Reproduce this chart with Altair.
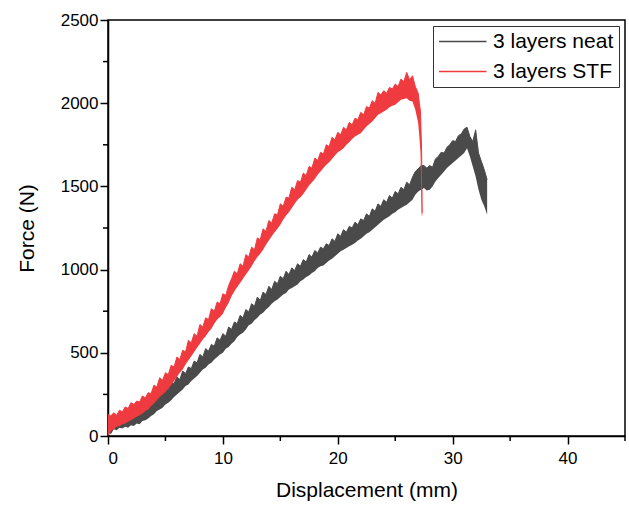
import altair as alt
import pandas as pd

series_names = ["3 layers neat", "3 layers STF"]
series_colors = ["#4a4a4a", "#ef3b3f"]

# 3 layers neat: displacement (mm), lower / upper edge of the noisy force band (N)
neat_x = [0, 0.25, 0.5, 0.75, 1, 1.25, 1.5, 1.75, 2, 2.25, 2.5, 2.75, 3, 3.25, 3.5, 3.75,
          4, 4.25, 4.5, 4.75, 5, 5.25, 5.5, 5.75, 6, 6.25, 6.5, 6.75, 7, 7.25, 7.5, 7.75,
          8, 8.25, 8.5, 8.75, 9, 9.25, 9.5, 9.75, 10, 10.25, 10.5, 10.75, 11, 11.25, 11.5, 11.75,
          12, 12.25, 12.5, 12.75, 13, 13.25, 13.5, 13.75, 14, 14.25, 14.5, 14.75, 15, 15.25, 15.5, 15.75,
          16, 16.25, 16.5, 16.75, 17, 17.25, 17.5, 17.75, 18, 18.25, 18.5, 18.75, 19, 19.25, 19.5, 19.75,
          20, 20.25, 20.5, 20.75, 21, 21.25, 21.5, 21.75, 22, 22.25, 22.5, 22.75, 23, 23.25, 23.5, 23.75,
          24, 24.25, 24.5, 24.75, 25, 25.25, 25.5, 25.75, 26, 26.25, 26.5, 26.75, 27, 27.25, 27.5, 27.75,
          28, 28.25, 28.5, 28.75, 29, 29.25, 29.5, 29.75, 30, 30.25, 30.5, 30.75, 31, 31.25, 31.5, 31.75,
          32, 32.25, 32.5, 32.75, 33]
neat_lo = [30, 10, 40, 35, 50, 45, 55, 50, 65, 60, 75, 70, 90, 95, 105, 120,
           130, 150, 160, 170, 190, 200, 215, 235, 250, 265, 280, 300, 310, 330, 345, 360,
           380, 400, 410, 430, 440, 460, 475, 490, 500, 525, 535, 555, 570, 595, 610, 620,
           640, 665, 675, 695, 710, 730, 740, 760, 775, 795, 810, 820, 835, 850, 860, 880,
           890, 900, 910, 930, 940, 955, 965, 980, 990, 1010, 1020, 1025, 1040, 1055, 1065, 1080,
           1095, 1110, 1120, 1130, 1140, 1150, 1160, 1175, 1185, 1200, 1215, 1225, 1240, 1255, 1270, 1285,
           1300, 1310, 1320, 1335, 1345, 1360, 1370, 1380, 1390, 1405, 1420, 1450, 1470, 1480, 1490, 1475,
           1480, 1500, 1530, 1550, 1570, 1590, 1610, 1625, 1640, 1655, 1670, 1685, 1700, 1730, 1680, 1620,
           1560, 1480, 1420, 1380, 1330]
neat_hi = [125, 110, 120, 100, 130, 115, 140, 130, 155, 145, 170, 160, 185, 175, 205, 200,
           235, 225, 265, 250, 290, 280, 325, 315, 355, 340, 390, 375, 415, 405, 450, 440,
           490, 475, 525, 510, 550, 540, 590, 575, 615, 600, 655, 640, 685, 675, 725, 710,
           760, 745, 795, 780, 835, 815, 865, 850, 900, 880, 930, 915, 960, 945, 990, 970,
           1010, 995, 1035, 1020, 1060, 1045, 1090, 1075, 1115, 1100, 1135, 1125, 1155, 1145, 1185, 1170,
           1215, 1200, 1240, 1225, 1260, 1250, 1285, 1270, 1305, 1295, 1335, 1320, 1365, 1350, 1395, 1380,
           1420, 1405, 1445, 1430, 1470, 1455, 1495, 1480, 1525, 1510, 1555, 1590, 1605, 1625, 1625, 1610,
           1625, 1615, 1665, 1680, 1705, 1700, 1735, 1750, 1775, 1770, 1805, 1815, 1845, 1855, 1800, 1770,
           1840, 1700, 1650, 1600, 1540]

# 3 layers STF
stf_x = [0, 0.25, 0.5, 0.75, 1, 1.25, 1.5, 1.75, 2, 2.25, 2.5, 2.75, 3, 3.25, 3.5, 3.75,
         4, 4.25, 4.5, 4.75, 5, 5.25, 5.5, 5.75, 6, 6.25, 6.5, 6.75, 7, 7.25, 7.5, 7.75,
         8, 8.25, 8.5, 8.75, 9, 9.25, 9.5, 9.75, 10, 10.25, 10.5, 10.75, 11, 11.25, 11.5, 11.75,
         12, 12.25, 12.5, 12.75, 13, 13.25, 13.5, 13.75, 14, 14.25, 14.5, 14.75, 15, 15.25, 15.5, 15.75,
         16, 16.25, 16.5, 16.75, 17, 17.25, 17.5, 17.75, 18, 18.25, 18.5, 18.75, 19, 19.25, 19.5, 19.75,
         20, 20.25, 20.5, 20.75, 21, 21.25, 21.5, 21.75, 22, 22.25, 22.5, 22.75, 23, 23.25, 23.5, 23.75,
         24, 24.25, 24.5, 24.75, 25, 25.25, 25.5, 25.75, 26, 26.25, 26.5, 26.75, 27, 27.1, 27.2, 27.3,
         27.35]
stf_lo = [0, 30, 40, 55, 60, 70, 75, 85, 95, 105, 115, 125, 135, 150, 160, 180,
          195, 215, 235, 250, 265, 285, 305, 330, 355, 380, 400, 430, 455, 480, 505, 530,
          555, 580, 600, 625, 645, 675, 700, 715, 735, 770, 800, 840, 870, 895, 920, 945,
          970, 995, 1020, 1050, 1075, 1095, 1120, 1150, 1175, 1200, 1225, 1245, 1270, 1300, 1325, 1345,
          1370, 1395, 1420, 1435, 1455, 1480, 1505, 1525, 1545, 1570, 1590, 1610, 1630, 1645, 1665, 1685,
          1705, 1715, 1730, 1750, 1765, 1785, 1800, 1810, 1820, 1840, 1860, 1875, 1890, 1910, 1930, 1940,
          1950, 1960, 1975, 1985, 1990, 2005, 2020, 2025, 2030, 2015, 2010, 1960, 1880, 1800, 1700, 1330,
          1320]
stf_hi = [130, 120, 140, 125, 155, 145, 175, 165, 200, 190, 210, 205, 240, 230, 260, 255,
          305, 295, 350, 335, 380, 370, 425, 415, 475, 460, 515, 505, 575, 560, 615, 600,
          670, 655, 710, 700, 765, 750, 805, 795, 855, 845, 905, 945, 990, 975, 1035, 1020,
          1090, 1075, 1135, 1120, 1190, 1180, 1245, 1230, 1295, 1280, 1335, 1330, 1395, 1380, 1435, 1430,
          1495, 1480, 1535, 1525, 1580, 1565, 1620, 1610, 1670, 1655, 1705, 1695, 1750, 1740, 1795, 1780,
          1825, 1810, 1855, 1840, 1885, 1870, 1910, 1900, 1945, 1930, 1980, 1970, 2015, 2000, 2065, 2050,
          2075, 2060, 2095, 2085, 2115, 2100, 2145, 2130, 2185, 2140, 2165, 2100, 2060, 2000, 1950, 1700,
          1340]

x_major = [0, 10, 20, 30, 40]
x_minor = [5, 15, 25, 35, 45]
y_major = [0, 500, 1000, 1500, 2000, 2500]
y_minor = [250, 750, 1250, 1750, 2250]

neat_df = pd.DataFrame({"x": neat_x, "lo": neat_lo, "hi": neat_hi, "series": series_names[0]})
stf_df = pd.DataFrame({"x": stf_x, "lo": stf_lo, "hi": stf_hi, "series": series_names[1]})
df = pd.concat([neat_df, stf_df], ignore_index=True)

FONT = "Liberation Sans"
xs = alt.Scale(domain=[0, 45], nice=False, zero=False)
ys = alt.Scale(domain=[0, 2500], nice=False)
cs = alt.Scale(domain=series_names, range=series_colors)

x_axis = alt.Axis(values=x_major, title="Displacement (mm)", grid=False, format="d",
                  ticks=True, tickSize=8, labelPadding=6, titlePadding=13)
y_axis = alt.Axis(values=y_major, title="Force (N)", grid=False, format="d",
                  ticks=True, tickSize=8, labelPadding=2, titlePadding=23)

legend_line = alt.Chart(df).mark_line(strokeWidth=1).encode(
    x=alt.X("x:Q", scale=xs, axis=x_axis),
    y=alt.Y("hi:Q", scale=ys, axis=y_axis),
    color=alt.Color("series:N", scale=cs, title=None,
                    legend=alt.Legend(orient="none", legendX=325, legendY=6,
                                      symbolType="M-1,0H4", symbolSize=361,
                                      symbolStrokeWidth=1.5, labelOffset=34,
                                      labelFontSize=21, labelFont=FONT, labelColor="black",
                                      padding=5, rowPadding=8,
                                      strokeColor="#333333", fillColor="white")),
)

def band(name):
    return alt.Chart(df).transform_filter(alt.datum.series == name).mark_area(opacity=1).encode(
        x=alt.X("x:Q", scale=xs),
        y=alt.Y("lo:Q", scale=ys),
        y2="hi:Q",
        color=alt.Color("series:N", scale=cs, legend=None),
    )

minor_x = alt.Chart(pd.DataFrame({"v": x_minor})).mark_rule(color="black", strokeWidth=1.5).encode(
    x=alt.X("v:Q", scale=xs), y=alt.value(416), y2=alt.value(421))
minor_y = alt.Chart(pd.DataFrame({"v": y_minor})).mark_rule(color="black", strokeWidth=1.5).encode(
    y=alt.Y("v:Q", scale=ys), x=alt.value(-5), x2=alt.value(0))

chart = alt.layer(legend_line, band(series_names[0]), band(series_names[1]), minor_x, minor_y).properties(
    width=517, height=416,
    autosize=alt.AutoSizeParams(type="none"),
    padding={"left": 108, "top": 20, "right": 4, "bottom": 69},
).configure_view(
    stroke="black", strokeWidth=1.5
).configure_axis(
    domainColor="black", domainWidth=1.5, tickColor="black", tickWidth=1.5,
    labelFont=FONT, labelFontSize=17, labelColor="black",
    titleFont=FONT, titleFontSize=21, titleFontWeight="normal", titleColor="black",
)

chart.save("out.html", embed_options={"renderer": "svg", "actions": False})
